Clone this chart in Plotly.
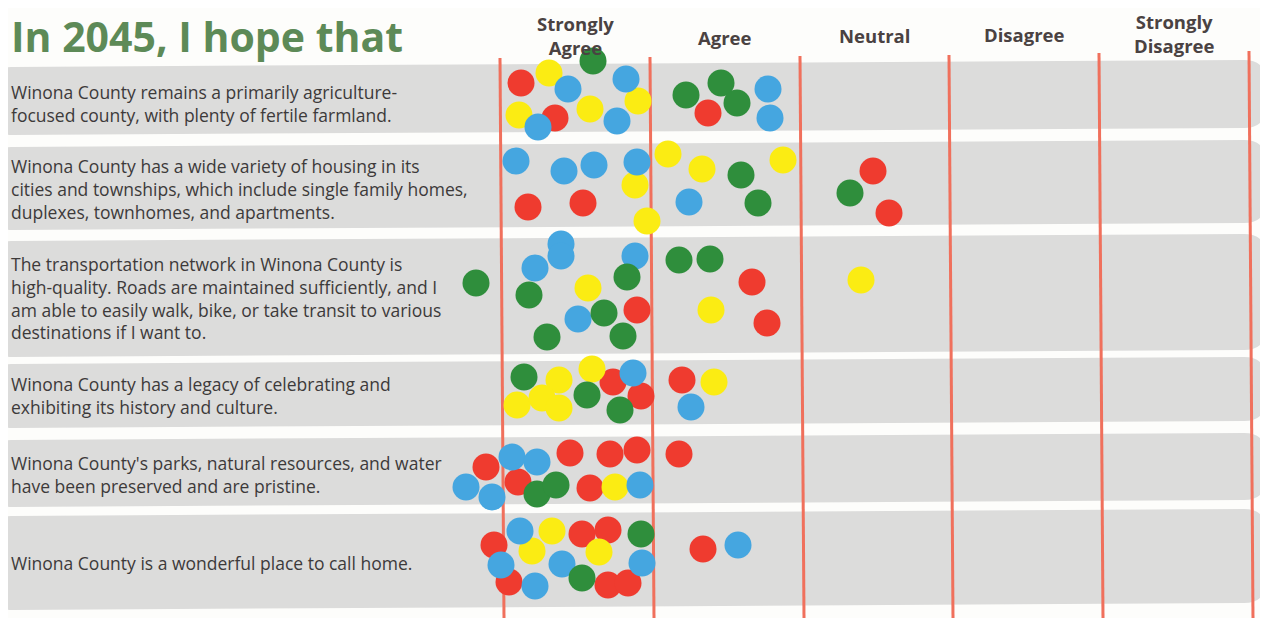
import plotly.graph_objects as go

# ---- data -------------------------------------------------------------
title = "In 2045, I hope that"
columns = ["Strongly<br>Agree", "Agree", "Neutral", "Disagree", "Strongly<br>Disagree"]
statements = [
    "Winona County remains a primarily agriculture-<br>focused county, with plenty of fertile farmland.",
    "Winona County has a wide variety of housing in its<br>cities and townships, which include single family homes,<br>duplexes, townhomes, and apartments.",
    "The transportation network in Winona County is<br>high-quality. Roads are maintained sufficiently, and I<br>am able to easily walk, bike, or take transit to various<br>destinations if I want to.",
    "Winona County has a legacy of celebrating and<br>exhibiting its history and culture.",
    "Winona County's parks, natural resources, and water<br>have been preserved and are pristine.",
    "Winona County is a wonderful place to call home.",
]

# sticker dots, board coordinates (x across, y down)
red_x = [521, 555, 708, 528, 583, 873, 889, 637, 752, 767, 613, 641, 682,
         486, 570, 610, 637, 518, 590, 679, 582, 608, 494, 509, 608, 628, 703]
red_y = [83, 118, 113, 207, 203, 171, 213, 310, 282, 323, 382, 396, 380,
         467, 453, 454, 450, 482, 488, 454, 534, 530, 545, 582, 585, 583, 549]
yellow_x = [549, 519, 590, 638, 668, 702, 783, 635, 647, 588, 711, 861,
            559, 592, 517, 542, 559, 714, 615, 552, 532, 599]
yellow_y = [73, 115, 109, 101, 154, 169, 160, 185, 221, 288, 310, 280,
            380, 369, 405, 398, 408, 382, 487, 531, 551, 552]
blue_x = [568, 626, 538, 617, 768, 770, 516, 564, 594, 637, 689, 561, 561,
          535, 635, 578, 633, 691, 512, 537, 466, 492, 640, 520, 501, 562,
          642, 535, 738]
blue_y = [89, 79, 127, 121, 89, 118, 161, 171, 165, 162, 202, 244, 256,
          268, 256, 319, 373, 407, 457, 462, 487, 497, 485, 531, 565, 564,
          563, 586, 545]
green_x = [593, 686, 721, 737, 741, 758, 850, 476, 529, 627, 604, 547, 623,
           679, 710, 524, 587, 620, 537, 556, 641, 582]
green_y = [61, 95, 83, 103, 175, 203, 193, 283, 295, 277, 313, 337, 336,
           260, 259, 377, 395, 410, 494, 485, 534, 578]

# ---- layout constants ---------------------------------------------------
W, H = 1268, 618
PAD = 8  # page body margin; board coords are shifted to cancel it
band_rows = [(67, 135), (147, 230), (241, 357), (364, 428), (440, 507), (516, 610)]
text_y = [103, 189, 298, 395, 474, 563]
line_top = [(500, 58), (650, 57), (800, 56), (949, 55), (1099, 53), (1249, 51)]
line_shift = 4
tilt = 7
band_fill = "#dcdcdb"
line_col = "#f0705c"

fig = go.Figure()

dot_sets = [
    ("Red", red_x, red_y, "#ef3b2f"),
    ("Yellow", yellow_x, yellow_y, "#fbec13"),
    ("Blue", blue_x, blue_y, "#45a6e0"),
    ("Green", green_x, green_y, "#2f8e3c"),
]
for name, xs, ys, col in dot_sets:
    fig.add_trace(go.Scatter(
        x=xs, y=ys, mode="markers", name=name,
        marker=dict(size=27, color=col, line=dict(width=0)),
        hoverinfo="name",
    ))

shapes = []
for t, b in band_rows:
    x0, x1, r, R = 1, 1266, 10, 22
    path = (f"M {x0 + r},{t} L {x1 - R},{t - tilt} Q {x1},{t - tilt} {x1},{t - tilt + R} "
            f"L {x1},{b - tilt - R} Q {x1},{b - tilt} {x1 - R},{b - tilt} "
            f"L {x0 + r},{b} Q {x0},{b} {x0},{b - r} L {x0},{t + r} Q {x0},{t} {x0 + r},{t} Z")
    shapes.append(dict(type="path", path=path, xref="x", yref="y",
                       fillcolor=band_fill, line=dict(width=0), layer="below"))
for lx, ly in line_top:
    shapes.append(dict(type="line", xref="x", yref="y", x0=lx, y0=ly,
                       x1=lx + line_shift, y1=H, line=dict(color=line_col, width=3),
                       layer="below"))

annotations = [dict(
    x=9, y=36, xref="x", yref="y", text=title, showarrow=False,
    xanchor="left", yanchor="middle",
    font=dict(family="Open Sans", size=41, color="#5d8a57", weight="bold"),
)]
header_y = [35, 37, 35, 34, 33]
for i, lab in enumerate(columns):
    cx = (line_top[i][0] + line_top[i + 1][0]) / 2
    annotations.append(dict(
        x=cx, y=header_y[i], xref="x", yref="y", text=lab, showarrow=False,
        xanchor="center", yanchor="middle",
        font=dict(family="Open Sans", size=18.5, color="#4a4242", weight="bold"),
    ))
for s, ty in zip(statements, text_y):
    annotations.append(dict(
        x=9, y=ty, xref="x", yref="y", text=s, showarrow=False,
        xanchor="left", yanchor="middle", align="left",
        font=dict(family="Open Sans", size=17.5, color="#3d3a3a"),
    ))

fig.update_layout(
    width=W - PAD, height=H - PAD,
    margin=dict(l=0, r=0, t=0, b=0),
    paper_bgcolor="#fdfdfb", plot_bgcolor="#fdfdfb",
    showlegend=False,
    xaxis=dict(range=[PAD, W], visible=False, fixedrange=True),
    yaxis=dict(range=[H, PAD], visible=False, fixedrange=True),
    shapes=shapes, annotations=annotations,
)

fig.write_html("out.html")
